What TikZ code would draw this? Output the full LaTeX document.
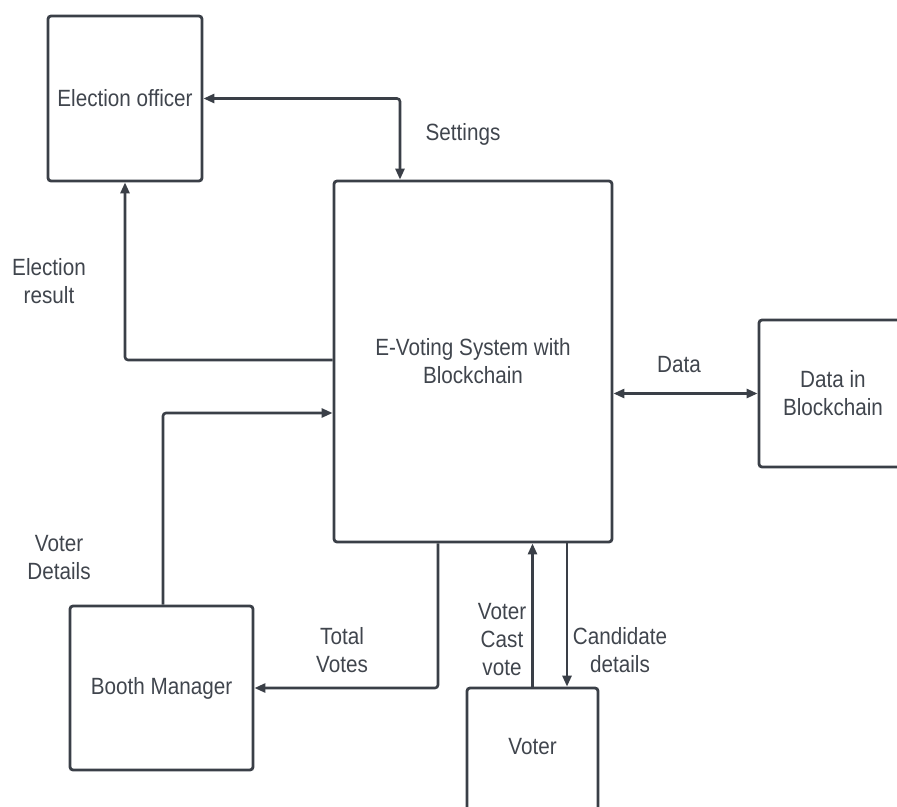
\documentclass[tikz,border=0pt]{standalone}
\usepackage{fontspec}
\setmainfont{Liberation Sans}[FakeStretch=0.88]
\usetikzlibrary{arrows.meta}
\definecolor{ink}{HTML}{3A3F47}
\definecolor{txt}{HTML}{40454D}
\begin{document}
\begin{tikzpicture}[x=1pt,y=-1pt,
  box/.style={draw=ink, line width=2.8pt, rounded corners=3pt, inner sep=0pt,
    text=txt, align=center, font=\fontsize{23.5}{28}\selectfont},
  lbl/.style={text=txt, align=center, inner sep=0pt, font=\fontsize{23.5}{28}\selectfont},
  conn/.style={draw=ink, line width=2.6pt, rounded corners=3pt},
  tip/.tip={Triangle[length=11pt,width=9pt]}]
\path[use as bounding box] (0,0) rectangle (897,806);
\clip (0,0) rectangle (897,806);
% boxes
\node[box, minimum width=154pt, minimum height=165pt] (eo) at (125,98.5) {Election officer};
\node[box, minimum width=278pt, minimum height=361pt] (main) at (473,361.5) {E-Voting System with\\Blockchain};
\node[box, minimum width=148pt, minimum height=147pt] (db) at (833,393.5) {Data in\\Blockchain};
\node[box, minimum width=183pt, minimum height=164pt] (bm) at (161.5,688) {Booth Manager};
\node[box, minimum width=131pt, minimum height=124pt] (voter) at (532.5,750) {};
\node[lbl] (voterlbl) at (532.5,747) {Voter};
% connectors
\draw[conn, tip-tip] (eo.east) -| ([xshift=-73pt]main.north);
\draw[conn, -tip] ([yshift=1.5pt]main.west) -| (eo.south);
\draw[conn, -tip] ([xshift=1.5pt]bm.north) |- ([yshift=-51.5pt]main.west);
\draw[conn, -tip] ([xshift=-35pt]main.south) |- (bm.east);
\draw[conn, -tip] (voter.north) -- (voter.north |- main.south);
\draw[conn, -tip] ([xshift=94pt]main.south) -- ([xshift=94pt]main.south |- voter.north);
\draw[conn, tip-tip] (db.west -| main.east) -- (db.west);
% labels
\node[lbl] (lset) at (463,134) {Settings};
\node[lbl] (lres) at (49,281) {Election\\result};
\node[lbl] (ldet) at (59,558) {Voter\\Details};
\node[lbl] (ltot) at (342,650) {Total\\Votes};
\node[lbl] (lcast) at (502,640) {Voter\\Cast\\vote};
\node[lbl] (lcand) at (620,650) {Candidate\\details};
\node[lbl] (ldata) at (679,365) {Data};
\end{tikzpicture}
\end{document}
